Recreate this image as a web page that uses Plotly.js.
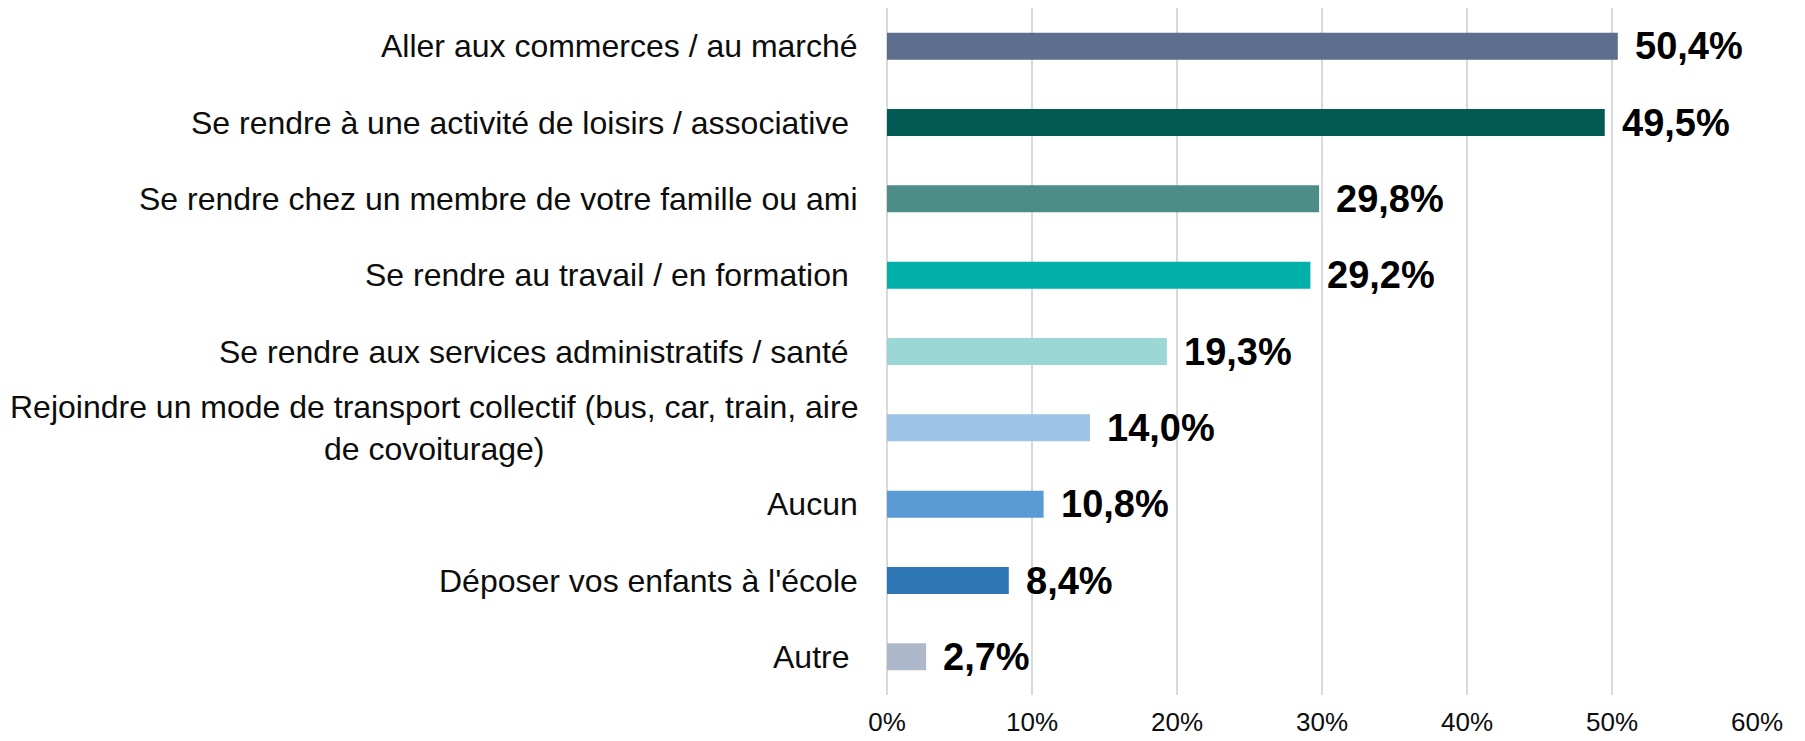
<!DOCTYPE html>
<html>
<head>
<meta charset="utf-8">
<script src="https://cdn.plot.ly/plotly-3.0.1.min.js"></script>
<style>html,body{margin:0;padding:0;background:#fff;}</style>
</head>
<body>
<div id="chart" style="width:1805px;height:741px;"></div>
<script>
const categories = [
  "Aller aux commerces / au marché",
  "Se rendre à une activité de loisirs / associative\u00a0",
  "Se rendre chez un membre de votre famille ou ami",
  "Se rendre au travail / en formation\u00a0",
  "Se rendre aux services administratifs / santé\u00a0",
  "Rejoindre un mode de transport collectif (bus, car, train, aire<br>de covoiturage)",
  "Aucun",
  "Déposer vos enfants à l'école",
  "Autre\u00a0"
];
const values = [50.4, 49.5, 29.8, 29.2, 19.3, 14.0, 10.8, 8.4, 2.7];
const barColors = ["#5d6f8c", "#025a55", "#4e8c88", "#00b0a9", "#9ad7d5", "#9dc3e6", "#5b9bd5", "#2e75b6", "#adb9ca"];
const tickValues = [0, 10, 20, 30, 40, 50, 60];
const tickLabels = ["0%", "10%", "20%", "30%", "40%", "50%", "60%"];

const fontFamily = '"Liberation Sans", Arial, sans-serif';

const trace = {
  type: "bar",
  orientation: "h",
  y: categories,
  x: values,
  marker: { color: barColors, line: { width: 0 } },
  hoverinfo: "skip"
};

const annotations = [];
categories.forEach((c, i) => {
  annotations.push({
    xref: "paper", yref: "y",
    x: 0, y: c,
    xanchor: "right", yanchor: "middle",
    xshift: -27,
    align: "center",
    showarrow: false,
    text: c,
    font: { family: fontFamily, size: 32, color: "#0d0d0d" }
  });
  annotations.push({
    xref: "x", yref: "y",
    x: values[i], y: c,
    xanchor: "left", yanchor: "middle",
    xshift: 15,
    showarrow: false,
    text: values[i].toFixed(1).replace(".", ",") + "%",
    font: { family: fontFamily, size: 38, color: "#000000", weight: "bold" }
  });
});

const layout = {
  width: 1805, height: 741,
  margin: { l: 887, r: 48, t: 8, b: 46, pad: 0 },
  paper_bgcolor: "#ffffff",
  plot_bgcolor: "#ffffff",
  showlegend: false,
  bargap: 0.646,
  xaxis: {
    range: [0, 60],
    tickvals: tickValues,
    ticktext: tickLabels,
    showgrid: true,
    gridcolor: "#d9d9d9",
    gridwidth: 1.5,
    zeroline: true,
    zerolinecolor: "#d9d9d9",
    zerolinewidth: 1.5,
    showline: false,
    ticks: "",
    ticklabelstandoff: 9,
    tickfont: { family: fontFamily, size: 26, color: "#0d0d0d" },
    fixedrange: true
  },
  yaxis: {
    type: "category",
    autorange: "reversed",
    showticklabels: false,
    showgrid: false,
    zeroline: false,
    showline: false,
    ticks: "",
    fixedrange: true
  },
  annotations: annotations
};

Plotly.newPlot("chart", [trace], layout, { displayModeBar: false, staticPlot: true });
</script>
</body>
</html>
